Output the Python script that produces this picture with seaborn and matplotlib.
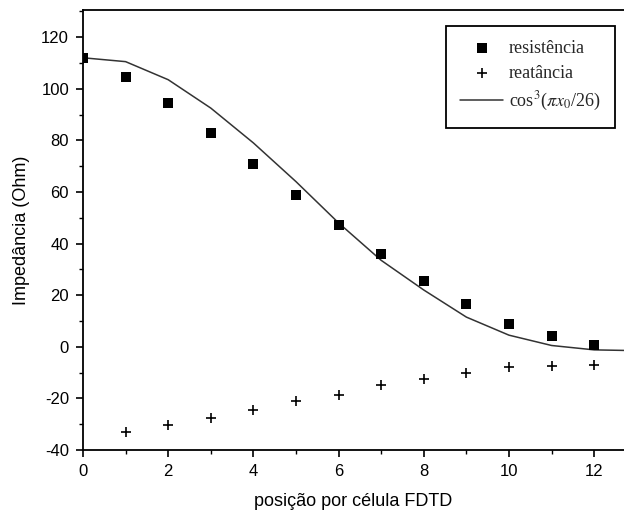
import matplotlib
matplotlib.use("Agg")
import matplotlib.pyplot as plt
import seaborn as sns
import numpy as np
import pandas as pd

# Data
positions = [0, 1, 2, 3, 4, 5, 6, 7, 8, 9, 10, 11, 12]
resistencia = [112, 104.5, 94.5, 83, 71, 59, 47, 36, 25.5, 16.5, 9, 4, 0.5]
react_pos = [1, 2, 3, 4, 5, 6, 7, 8, 9, 10, 11, 12]
reatancia = [-33, -30.5, -27.5, -24.5, -21, -18.5, -15, -12.5, -10, -8, -7.5, -7]
curve_x = [0, 1, 2, 3, 4, 5, 6, 7, 8, 9, 10, 11, 12, 13]
curve_y = [112, 110.5, 103.5, 92.5, 79, 64, 48, 33.5, 22, 11.5, 4.5, 0.5, -1.2, -1.5]

xticks = [0, 2, 4, 6, 8, 10, 12]
yticks = [-40, -20, 0, 20, 40, 60, 80, 100, 120]

sns.set_theme(style="ticks")
plt.rcParams['font.family'] = ['Liberation Sans', 'DejaVu Sans']
plt.rcParams['mathtext.fontset'] = 'stix'
plt.rcParams['axes.unicode_minus'] = False

fig = plt.figure(figsize=(6.24, 5.17), dpi=100)
ax = fig.add_axes([0.133, 0.1296, 0.867, 0.851])

df_r = pd.DataFrame({"x": positions, "y": resistencia})
df_x = pd.DataFrame({"x": react_pos, "y": reatancia})
df_c = pd.DataFrame({"x": curve_x, "y": curve_y})

sns.scatterplot(data=df_r, x="x", y="y", ax=ax, marker="s", s=55, color="black",
                edgecolor="black", linewidth=0, label="resistência", zorder=3)
sns.scatterplot(data=df_x, x="x", y="y", ax=ax, marker="+", s=60, color="black",
                linewidth=1.2, label="reatância", zorder=3)
sns.lineplot(data=df_c, x="x", y="y", ax=ax, color="#333333", linewidth=1.1,
             label=r"cos$^3$($\pi x_0$/26)", zorder=2)

ax.set_xlim(0, 12.7)
ax.set_ylim(-40, 130.5)
ax.set_xticks(xticks)
ax.set_yticks(yticks)
ax.set_xticks(range(0, 13), minor=True)
ax.set_yticks(range(-40, 131, 10), minor=True)
ax.tick_params(axis="both", which="major", direction="out", length=5, width=1.2,
               labelsize=12, colors="black", pad=5)
ax.tick_params(axis="both", which="minor", direction="out", length=3, width=1.0,
               colors="black")
for sp in ax.spines.values():
    sp.set_color("black")
    sp.set_linewidth(1.3)
ax.spines["right"].set_visible(False)

ax.set_xlabel("posição por célula FDTD", fontsize=13, color="black", labelpad=10)
ax.set_ylabel("Impedância (Ohm)", fontsize=13, color="black", labelpad=8)

leg = ax.legend(loc="upper right", bbox_to_anchor=(1.0, 0.985), frameon=True,
                fancybox=False, edgecolor="black", framealpha=1,
                prop={"family": "Liberation Serif", "size": 13},
                handlelength=2.4, borderpad=0.8, labelspacing=0.45,
                handletextpad=0.3)
leg.get_frame().set_linewidth(1.3)

fig.savefig("out.png", dpi=100)
